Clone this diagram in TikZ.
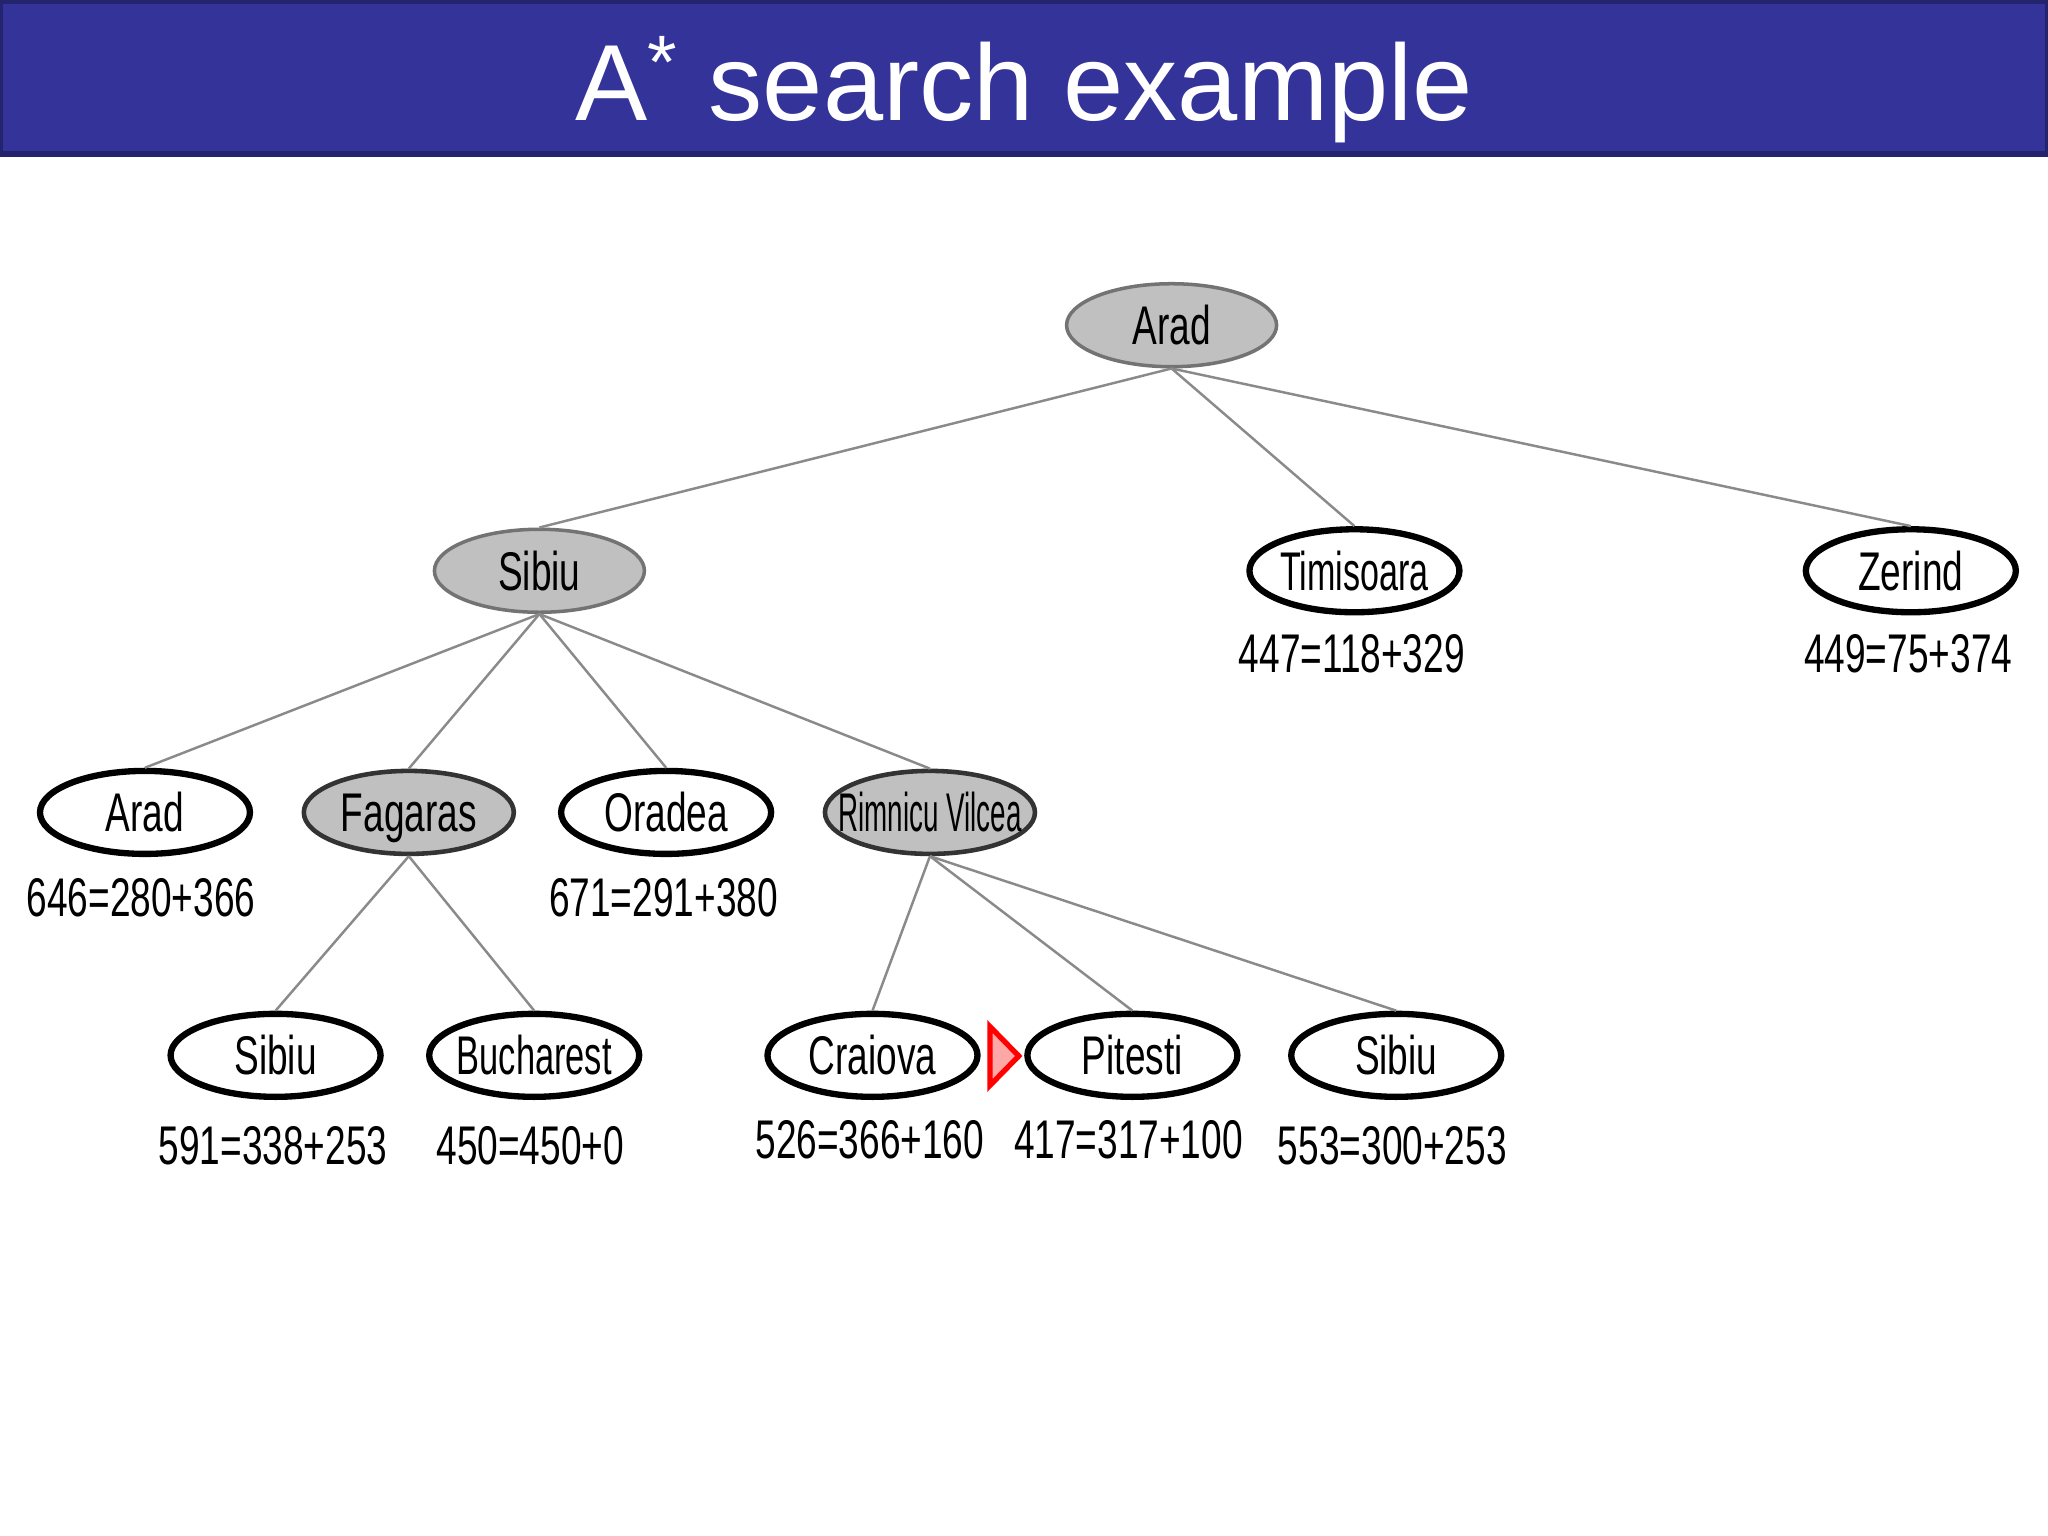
\documentclass[tikz,border=0pt]{standalone}
\usepackage{fontspec}
\setmainfont{Liberation Sans}
\newfontfamily\condfont[FakeStretch=0.68]{Liberation Sans}
\usetikzlibrary{shapes.geometric}
\definecolor{titleblue}{HTML}{333399}
\definecolor{titleedge}{HTML}{23236E}
\definecolor{nodegray}{HTML}{C0C0C0}
\definecolor{edgegray}{HTML}{8A8A8A}
\begin{document}
\begin{tikzpicture}[x=0.01306cm, y=-0.01306cm,
  city/.style={ellipse, minimum width=2.1cm, minimum height=0.83cm, inner sep=0pt,
    text height=11pt, text depth=0pt, font=\condfont\fontsize{15.5}{16}\selectfont},
  open/.style={city, draw=black, line width=1.8pt, fill=white},
  expanded/.style={city, draw=black!80, line width=1.3pt, fill=nodegray},
  visited/.style={city, draw=black!55, line width=1pt, fill=nodegray},
  cost/.style={inner sep=0pt, text height=11pt, text depth=0pt,
    font=\condfont\fontsize{15.5}{16}\selectfont},
  tree/.style={draw=edgegray, line width=0.7pt}]
\useasboundingbox (0,0) rectangle (1568,1176);
\fill[white] (0,0) rectangle (1568,1176);
% title bar
\draw[fill=titleblue, draw=titleedge, line width=1.5pt] (0,1) rectangle (1568,118);
\node[anchor=base, text=white, inner sep=0pt, font=\fontsize{30.8}{36}\selectfont] (title) at (784,92) {A\textsuperscript{*} search example};
% nodes
\node[visited] (arad) at (897,249) {\makebox[0pt]{Arad}};
\node[visited] (sibiu) at (413,437) {\makebox[0pt]{Sibiu}};
\node[open] (timisoara) at (1037,437) {\makebox[0pt]{\scalebox{0.92}[1]{Timisoara}}};
\node[open] (zerind) at (1463,437) {\makebox[0pt]{Zerind}};
\node[open] (arad2) at (111,622) {\makebox[0pt]{Arad}};
\node[expanded] (fagaras) at (313,622) {\makebox[0pt]{Fagaras}};
\node[open] (oradea) at (510,622) {\makebox[0pt]{Oradea}};
\node[expanded] (rimnicu) at (712,622) {\makebox[0pt]{\scalebox{0.75}[1]{Rimnicu Vilcea}}};
\node[open] (sibiu2) at (211,808) {\makebox[0pt]{Sibiu}};
\node[open] (bucharest) at (409,808) {\makebox[0pt]{\scalebox{0.93}[1]{Bucharest}}};
\node[open] (craiova) at (668,808) {\makebox[0pt]{Craiova}};
\node[open] (pitesti) at (867,808) {\makebox[0pt]{Pitesti}};
\node[open] (sibiu3) at (1069,808) {\makebox[0pt]{Sibiu}};
% costs
\node[cost] (ctim) at (1035,500) {447=118+329};
\node[cost] (czer) at (1461,500) {449=75+374};
\node[cost] (carad) at (108,687) {646=280+366};
\node[cost] (cora) at (508,687) {671=291+380};
\node[cost] (csib) at (209,877) {591=338+253};
\node[cost] (cbuc) at (406,877) {450=450+0};
\node[cost] (ccra) at (666,872) {526=366+160};
\node[cost] (cpit) at (864,872) {417=317+100};
\node[cost] (csib3) at (1066,877) {553=300+253};
% edges
\draw[tree] (arad.south) -- (sibiu.north);
\draw[tree] (arad.south) -- (timisoara.north);
\draw[tree] (arad.south) -- (zerind.north);
\draw[tree] (sibiu.south) -- (arad2.north);
\draw[tree] (sibiu.south) -- (fagaras.north);
\draw[tree] (sibiu.south) -- (oradea.north);
\draw[tree] (sibiu.south) -- (rimnicu.north);
\draw[tree] (fagaras.south) -- (sibiu2.north);
\draw[tree] (fagaras.south) -- (bucharest.north);
\draw[tree] (rimnicu.south) -- (craiova.north);
\draw[tree] (rimnicu.south) -- (pitesti.north);
\draw[tree] (rimnicu.south) -- (sibiu3.north);
% red marker
\draw[red, fill=red!35, line width=1.5pt, line join=miter] (758,786) -- (758,831) -- (780,808.5) -- cycle;
\end{tikzpicture}
\end{document}
